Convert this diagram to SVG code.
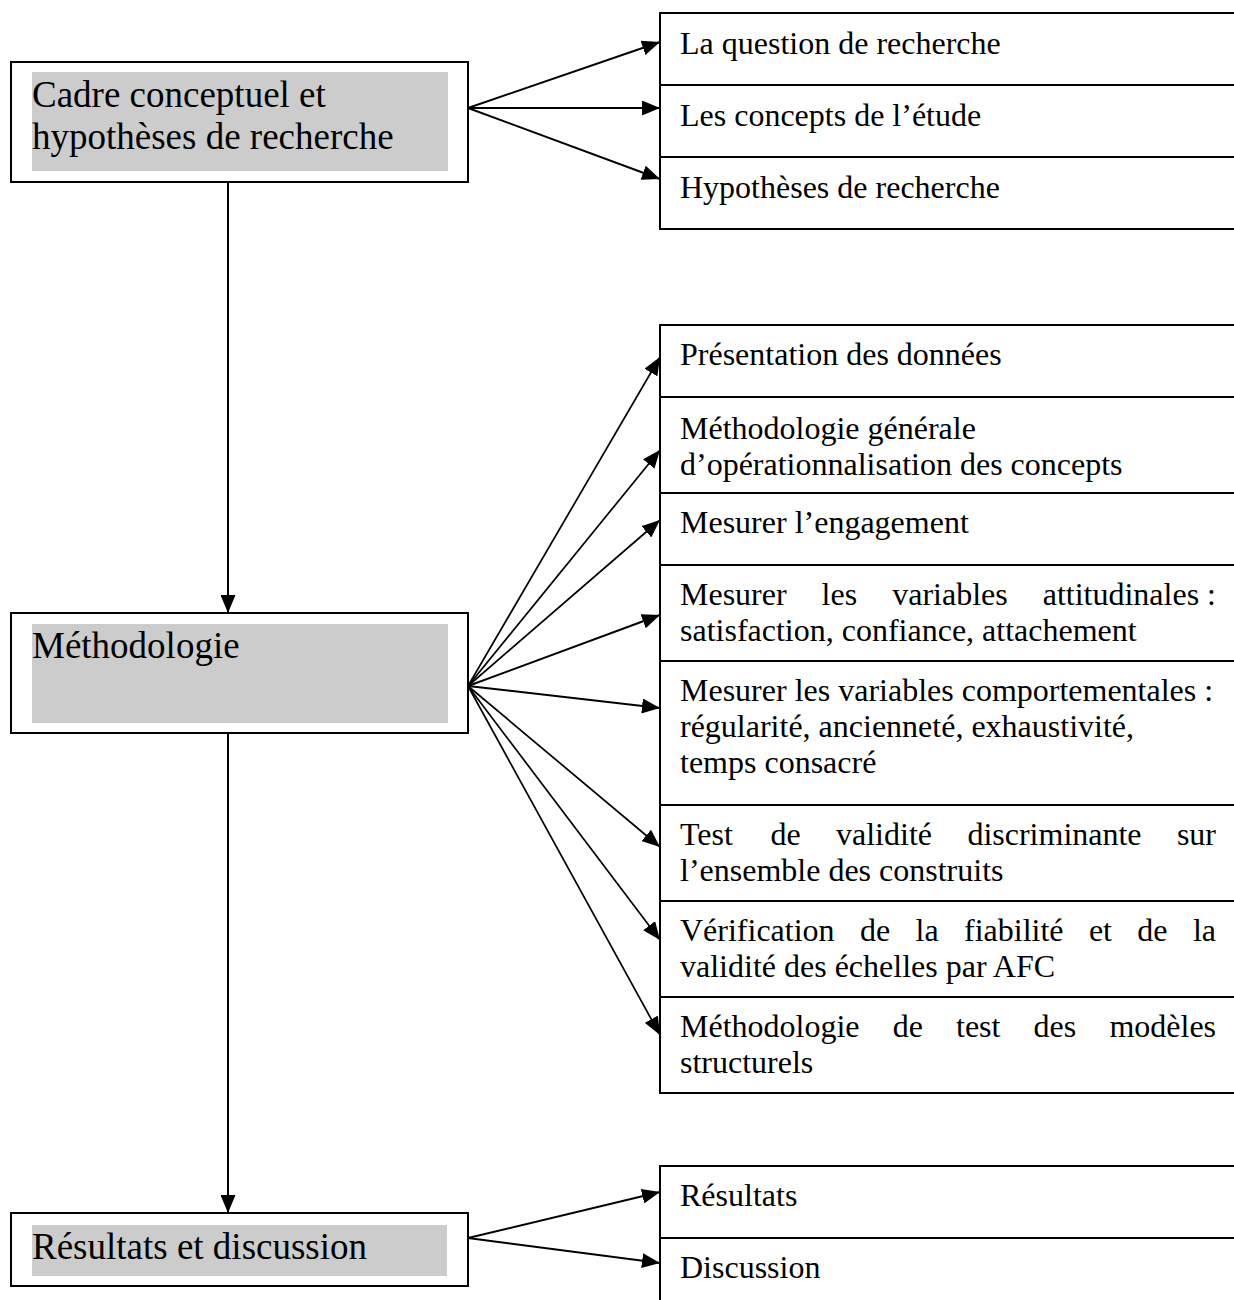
<svg xmlns="http://www.w3.org/2000/svg" width="1234" height="1300" viewBox="0 0 1234 1300">
<style>
.box{fill:#fff;stroke:#000;stroke-width:2}
.shade{fill:#cccccc;stroke:none}
.big{font-family:"Liberation Serif","Times New Roman",serif;font-size:37px;fill:#000}
.sm{font-family:"Liberation Serif","Times New Roman",serif;font-size:32px;fill:#000}
.con{stroke:#000;stroke-width:2;fill:none;marker-end:url(#ah)}
.con2{stroke:#000;stroke-width:1.7;fill:none;marker-end:url(#ah)}
</style>
<defs>
<marker id="ah" markerUnits="userSpaceOnUse" markerWidth="18" markerHeight="15" refX="18" refY="7.5" orient="auto" viewBox="0 0 18 15">
<path d="M0,0 L18,7.5 L0,15 z" fill="#000"/>
</marker>
</defs>
<rect width="1234" height="1300" fill="#fff"/>

<g id="connectors">
<line class="con" x1="228" y1="182" x2="228" y2="613"/>
<line class="con" x1="228" y1="733" x2="228" y2="1213"/>
<line class="con" x1="468" y1="108" x2="660" y2="42"/>
<line class="con" x1="468" y1="108" x2="660" y2="108"/>
<line class="con" x1="468" y1="108" x2="660" y2="179"/>
<line class="con2" x1="468" y1="686" x2="660" y2="357"/>
<line class="con2" x1="468" y1="686" x2="660" y2="450"/>
<line class="con2" x1="468" y1="686" x2="660" y2="520"/>
<line class="con" x1="468" y1="686" x2="660" y2="615"/>
<line class="con" x1="468" y1="686" x2="660" y2="708"/>
<line class="con2" x1="468" y1="686" x2="660" y2="847"/>
<line class="con2" x1="468" y1="686" x2="660" y2="940"/>
<line class="con2" x1="468" y1="686" x2="660" y2="1035"/>
<line class="con" x1="468" y1="1238" x2="660" y2="1192"/>
<line class="con" x1="468" y1="1238" x2="660" y2="1263"/>
</g>

<g id="cadre">
<rect class="box" x="11" y="62" width="457" height="120"/>
<rect class="shade" x="32" y="72" width="416" height="99"/>
<text class="big" x="32" y="107">Cadre conceptuel et</text>
<text class="big" x="32" y="149">hypothèses de recherche</text>
</g>

<g id="methodologie">
<rect class="box" x="11" y="613" width="457" height="120"/>
<rect class="shade" x="32" y="624" width="416" height="99"/>
<text class="big" x="32" y="658">Méthodologie</text>
</g>

<g id="resultats-discussion">
<rect class="box" x="11" y="1213" width="457" height="73"/>
<rect class="shade" x="32" y="1225" width="415" height="51"/>
<text class="big" x="32" y="1259">Résultats et discussion</text>
</g>

<g id="question">
<rect class="box" x="660" y="13" width="600" height="72"/>
<text class="sm" x="680" y="54">La question de recherche</text>
</g>
<g id="concepts">
<rect class="box" x="660" y="85" width="600" height="72"/>
<text class="sm" x="680" y="126">Les concepts de l’étude</text>
</g>
<g id="hypotheses">
<rect class="box" x="660" y="157" width="600" height="72"/>
<text class="sm" x="680" y="198">Hypothèses de recherche</text>
</g>

<g id="presentation">
<rect class="box" x="660" y="325" width="600" height="72"/>
<text class="sm" x="680" y="365">Présentation des données</text>
</g>
<g id="methodo-generale">
<rect class="box" x="660" y="397" width="600" height="96"/>
<text class="sm" x="680" y="439">Méthodologie générale</text>
<text class="sm" x="680" y="475">d’opérationnalisation des concepts</text>
</g>
<g id="engagement">
<rect class="box" x="660" y="493" width="600" height="72"/>
<text class="sm" x="680" y="533">Mesurer l’engagement</text>
</g>
<g id="attitudinales">
<rect class="box" x="660" y="565" width="600" height="96"/>
<text class="sm" y="605"><tspan x="680">Mesurer</tspan><tspan x="821.6">les</tspan><tspan x="892.2">variables</tspan><tspan x="1042.7">attitudinales :</tspan></text>
<text class="sm" x="680" y="641">satisfaction, confiance, attachement</text>
</g>
<g id="comportementales">
<rect class="box" x="660" y="661" width="600" height="144"/>
<text class="sm" x="680" y="701">Mesurer les variables comportementales :</text>
<text class="sm" x="680" y="737">régularité, ancienneté, exhaustivité,</text>
<text class="sm" x="680" y="773">temps consacré</text>
</g>
<g id="validite-discriminante">
<rect class="box" x="660" y="805" width="600" height="96"/>
<text class="sm" y="845"><tspan x="680">Test</tspan><tspan x="770.5">de</tspan><tspan x="836">validité</tspan><tspan x="967.4">discriminante</tspan><tspan x="1176.9">sur</tspan></text>
<text class="sm" x="680" y="881">l’ensemble des construits</text>
</g>
<g id="fiabilite">
<rect class="box" x="660" y="901" width="600" height="96"/>
<text class="sm" y="941"><tspan x="680">Vérification</tspan><tspan x="860">de</tspan><tspan x="915.5">la</tspan><tspan x="964">fiabilité</tspan><tspan x="1088.9">et</tspan><tspan x="1137.3">de</tspan><tspan x="1192.9">la</tspan></text>
<text class="sm" x="680" y="977">validité des échelles par AFC</text>
</g>
<g id="modeles-structurels">
<rect class="box" x="660" y="997" width="600" height="96"/>
<text class="sm" y="1037"><tspan x="680">Méthodologie</tspan><tspan x="892.7">de</tspan><tspan x="956">test</tspan><tspan x="1033.6">des</tspan><tspan x="1109.4">modèles</tspan></text>
<text class="sm" x="680" y="1073">structurels</text>
</g>

<g id="resultats">
<rect class="box" x="660" y="1166" width="600" height="72"/>
<text class="sm" x="680" y="1206">Résultats</text>
</g>
<g id="discussion">
<rect class="box" x="660" y="1238" width="600" height="72"/>
<text class="sm" x="680" y="1278">Discussion</text>
</g>
</svg>
